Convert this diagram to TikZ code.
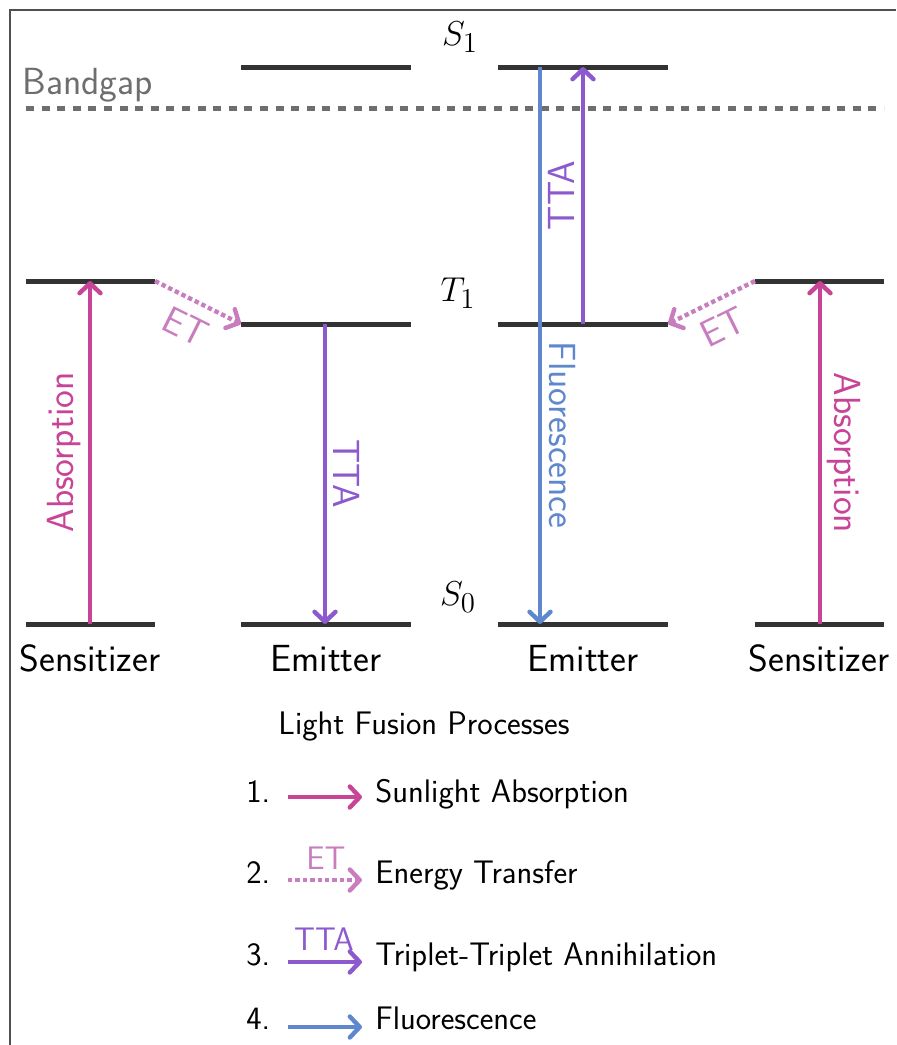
\documentclass[tikz,border=0pt]{standalone}
\usetikzlibrary{arrows.meta}
\definecolor{absC}{RGB}{200,68,150}
\definecolor{etC}{RGB}{200,125,190}
\definecolor{ttaC}{RGB}{140,90,205}
\definecolor{fluC}{RGB}{95,135,205}
\definecolor{lvlC}{RGB}{51,51,51}
\definecolor{gapC}{RGB}{110,110,110}
\definecolor{frameC}{RGB}{80,80,80}
\begin{document}
\begin{tikzpicture}[x=0.5pt,y=0.5pt,
  font=\sffamily\fontsize{18.9}{22}\selectfont,
  level/.style={draw=lvlC,line width=2.5pt},
  proc/.style={line width=2.2pt,-{Straight Barb[length=5pt,width=10.5pt,round]}},
  absarrow/.style={proc,draw=absC},
  etarrow/.style={proc,draw=etC,dash pattern=on 2.2pt off 1.5pt},
  ttaarrow/.style={proc,draw=ttaC},
  fluarrow/.style={proc,draw=fluC},
  lbl/.style={inner sep=3.33pt},
  legfont/.style={font=\sffamily\fontsize{16.3}{19}\selectfont},
  legtext/.style={legfont,inner sep=0pt,anchor=base west},
  framestyle/.style={draw=frameC,line width=0.7pt}
]
\useasboundingbox (0,0) rectangle (896,-1045);
\clip (0,0) rectangle (896,-1045);
\coordinate (frBL) at (10,-1045);
\coordinate (frTL) at (10,-10);
\coordinate (frTR) at (896,-10);
\draw[framestyle] (frBL) -- (frTL) -- (frTR);

% Bandgap
\coordinate (bgL) at (26,-108);
\coordinate (bgR) at (884,-108);
\draw[draw=gapC,line width=2.5pt,dash pattern=on 4pt off 3.8pt] (bgL) -- (bgR);
\node[text=gapC,inner sep=0pt,anchor=base west] (bandgap) at (22,-94) {Bandgap};

% Levels: left sensitizer
\coordinate (slT1a) at (26,-281);  \coordinate (slT1b) at (155,-281);
\coordinate (slS0a) at (26,-624);  \coordinate (slS0b) at (155,-624);
% emitter 1
\coordinate (e1S1a) at (241,-67);  \coordinate (e1S1b) at (411,-67);
\coordinate (e1T1a) at (241,-324); \coordinate (e1T1b) at (411,-324);
\coordinate (e1S0a) at (241,-624); \coordinate (e1S0b) at (411,-624);
% emitter 2
\coordinate (e2S1a) at (498,-67);  \coordinate (e2S1b) at (668,-67);
\coordinate (e2T1a) at (498,-324); \coordinate (e2T1b) at (668,-324);
\coordinate (e2S0a) at (498,-624); \coordinate (e2S0b) at (668,-624);
% right sensitizer
\coordinate (srT1a) at (755,-281); \coordinate (srT1b) at (884,-281);
\coordinate (srS0a) at (755,-624); \coordinate (srS0b) at (884,-624);

\foreach \a/\b in {slT1a/slT1b,slS0a/slS0b,e1S1a/e1S1b,e1T1a/e1T1b,e1S0a/e1S0b,
                   e2S1a/e2S1b,e2T1a/e2T1b,e2S0a/e2S0b,srT1a/srT1b,srS0a/srS0b}
  \draw[level] (\a) -- (\b);

% level names
\node (S1lab) at (460,-37) {\fontsize{19}{22}\selectfont$S_1$};
\node (T1lab) at (458,-293) {\fontsize{19}{22}\selectfont$T_1$};
\node (S0lab) at (458,-597) {\fontsize{19}{22}\selectfont$S_0$};

% species names
\node[anchor=base] (sensL) at (90,-671) {Sensitizer};
\node[anchor=base] (emit1) at (326,-671) {Emitter};
\node[anchor=base] (emit2) at (583,-671) {Emitter};
\node[anchor=base] (sensR) at (819,-671) {Sensitizer};

% arrow endpoints
\coordinate (absLa) at (90,-624);  \coordinate (absLb) at (90,-281);
\coordinate (absRa) at (820,-624); \coordinate (absRb) at (820,-281);
\coordinate (tta1a) at (325,-324); \coordinate (tta1b) at (325,-624);
\coordinate (flua)  at (540,-67);  \coordinate (flub)  at (540,-624);
\coordinate (tta2a) at (583,-324); \coordinate (tta2b) at (583,-67);

\draw[absarrow] (absLa) -- node[lbl,midway,above,sloped,text=absC] (absLlab) {Absorption} (absLb);
\draw[absarrow] (absRa) -- (absRb);
\node[lbl,rotate=-90,anchor=south,text=absC] (absRlab) at (820,-453) {Absorption};
\draw[ttaarrow] (tta1a) -- node[lbl,midway,above,sloped,text=ttaC] (tta1lab) {TTA} (tta1b);
\draw[fluarrow] (flua) -- node[lbl,pos=0.661,above,sloped,text=fluC] (flulab) {Fluorescence} (flub);
\draw[ttaarrow] (tta2a) -- node[lbl,midway,above,sloped,text=ttaC] (tta2lab) {TTA} (tta2b);

\draw[etarrow] (slT1b) -- node[lbl,midway,below=2.5pt,sloped,text=etC] (etLlab) {ET} (e1T1a);
\draw[etarrow] (srT1a) -- node[lbl,midway,below=2.5pt,sloped,text=etC] (etRlab) {ET} (e2T1b);

% legend
\node[legfont,inner sep=0pt,anchor=base] (legtitle) at (424,-734) {Light Fusion Processes};

\node[legtext] (n1) at (246,-802) {1.};
\node[legtext] (n2) at (246,-883) {2.};
\node[legtext] (n3) at (246,-965) {3.};
\node[legtext] (n4) at (246,-1029) {4.};

\coordinate (l1a) at (288,-797);  \coordinate (l1b) at (362,-797);
\coordinate (l2a) at (288,-880);  \coordinate (l2b) at (362,-880);
\coordinate (l3a) at (288,-962);  \coordinate (l3b) at (362,-962);
\coordinate (l4a) at (288,-1027); \coordinate (l4b) at (362,-1027);

\draw[absarrow] (l1a) -- (l1b);
\draw[etarrow] (l2a) -- (l2b);
\draw[ttaarrow] (l3a) -- (l3b);
\draw[fluarrow] (l4a) -- (l4b);

\node[legfont,text=etC] (etleg) at (326,-858) {ET};
\node[legfont,text=ttaC] (ttaleg) at (324,-939) {TTA};

\node[legtext] (t1) at (375,-802) {Sunlight Absorption};
\node[legtext] (t2) at (375,-883) {Energy Transfer};
\node[legtext] (t3) at (375,-965) {Triplet-Triplet Annihilation};
\node[legtext] (t4) at (375,-1029) {Fluorescence};
\end{tikzpicture}
\end{document}
